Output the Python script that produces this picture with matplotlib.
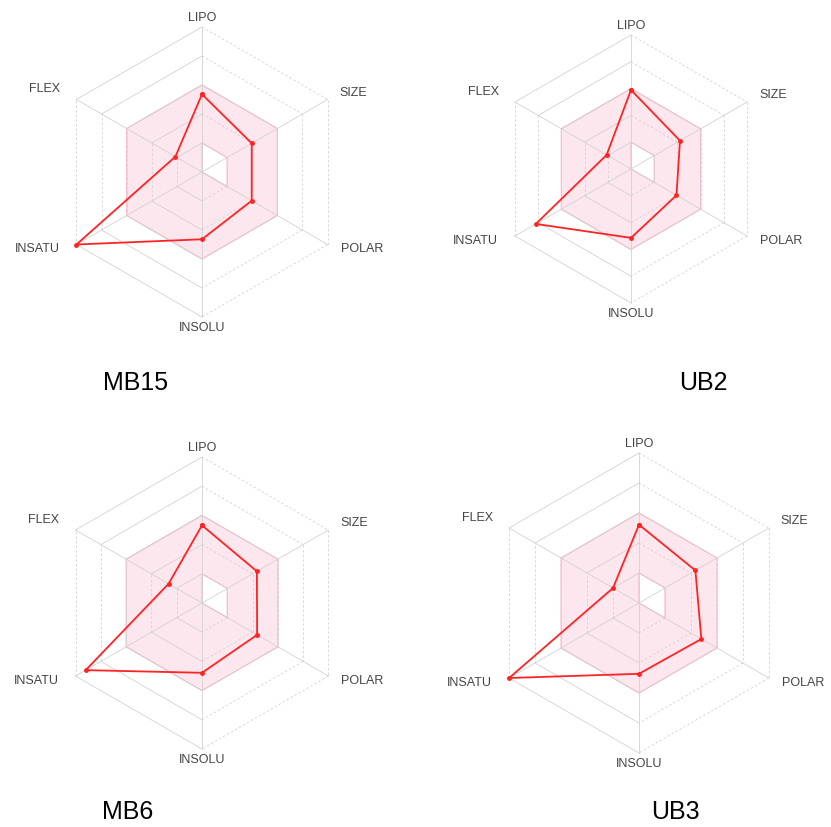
import numpy as np
import matplotlib.pyplot as plt

plt.rcParams['font.family'] = ['Liberation Sans', 'DejaVu Sans']

# bioavailability radar data (0..5 scale, 5 rings)
props = ['LIPO', 'SIZE', 'POLAR', 'INSOLU', 'INSATU', 'FLEX']
angles_deg = [90, 30, -30, -90, -150, 150]
names = ['MB15', 'UB2', 'MB6', 'UB3']
mb15 = [2.68, 1.98, 1.98, 2.32, 5.0, 1.06]
ub2 = [2.95, 2.11, 1.96, 2.57, 4.1, 1.05]
mb6 = [2.66, 2.17, 2.18, 2.39, 4.6, 1.32]
ub3 = [2.61, 2.17, 2.40, 2.36, 5.0, 1.0]
optimal_low = [1, 1, 1, 0, 0, 0]
optimal_high = [3, 3, 3, 3, 3, 3]
n_rings = 5

W, H = 831, 827
# panel centre (px) and outer radius (px), title position (px)
panels = [(202, 172, 145), (631, 169, 134), (202, 603, 146), (639, 603, 150)]
title_pos = [(136, 383), (703, 383), (128, 812), (675, 812)]
series = [mb15, ub2, mb6, ub3]

# label offsets in pixels from the outer vertex
label_off = {
    'LIPO': (0, 9, 'center'),
    'SIZE': (12, 7, 'left'),
    'POLAR': (13, -5, 'left'),
    'INSOLU': (0, -11, 'center'),
    'INSATU': (-17, -5, 'right'),
    'FLEX': (-16, 10, 'right'),
}
dashed_seg = [True, True, True, False, True, False]

grid_col = '#d2d2d2'
pink_face = '#fde7ee'
pink_edge = '#f5bccd'
red = '#ff2424'

fig = plt.figure(figsize=(W / 100, H / 100), dpi=100)
theta = np.deg2rad(angles_deg)
theta_c = np.append(theta, theta[0])

for (cx, cy, r), vals, name, (tx, ty) in zip(panels, series, names, title_pos):
    ax = fig.add_axes([(cx - r) / W, 1 - (cy + r) / H, 2 * r / W, 2 * r / H],
                      projection='polar')
    ax.set_ylim(0, n_rings)
    ax.axis('off')

    # optimal range band
    hi = np.append(optimal_high, optimal_high[0])
    lo = np.append(optimal_low, optimal_low[0])
    ax.fill(theta_c, hi, facecolor=pink_face, edgecolor=pink_edge, lw=0.9, zorder=1)
    ax.fill(theta_c, lo, facecolor='white', edgecolor=pink_edge, lw=0.9, zorder=2)

    # hexagon grid
    for k in range(1, n_rings + 1):
        for i in range(len(theta)):
            j = (i + 1) % len(theta)
            ax.plot([theta[i], theta[j]], [k, k], color=grid_col, lw=0.6,
                    ls=(0, (3, 2.5)) if dashed_seg[i] else '-', zorder=3,
                    clip_on=False)
    for t in theta:
        ax.plot([t, t], [0, n_rings], color=grid_col, lw=0.6, zorder=3, clip_on=False)

    # molecule profile
    v = np.append(vals, vals[0])
    ax.plot(theta_c, v, color=red, lw=1.3, marker='o', ms=2.5, zorder=5, clip_on=False)

    for t, p in zip(theta, props):
        dx, dy, ha = label_off[p]
        ax.annotate(p, xy=(t, n_rings), xytext=(dx, dy), textcoords='offset pixels',
                    ha=ha, va='center', fontsize=9, color='#444444')

    fig.text(tx / W, 1 - ty / H, name, ha='center', va='center', fontsize=18,
             color='black')

fig.savefig('out.png', dpi=100, facecolor='white')
